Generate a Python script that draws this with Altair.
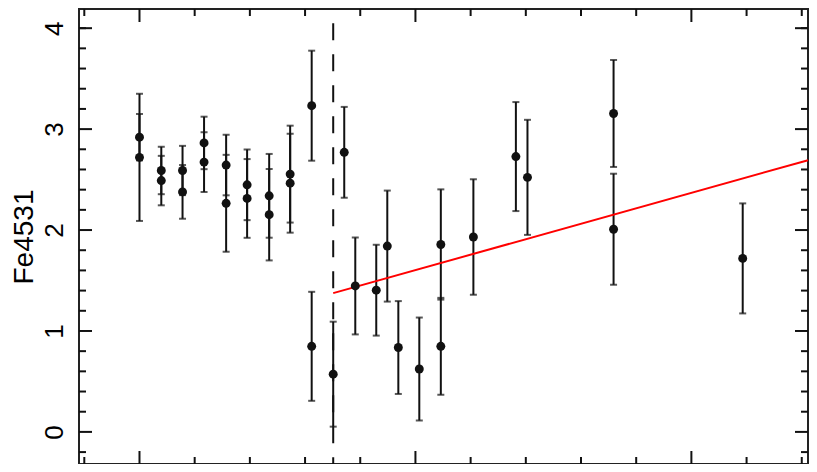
import altair as alt
import pandas as pd

# ---- data ----
x_vals = [0.00, 0.00, 0.395, 0.395, 0.78, 0.78, 1.17, 1.17, 1.57, 1.57,
          1.95, 1.95, 2.35, 2.35, 2.73, 2.73, 3.12, 3.12, 3.51, 3.71,
          3.91, 4.29, 4.49, 4.69, 5.07, 5.46, 5.46, 6.05, 6.82, 7.03,
          8.59, 8.59, 10.93]
y_vals = [2.92, 2.72, 2.59, 2.49, 2.59, 2.378, 2.863, 2.673, 2.644, 2.265,
          2.448, 2.313, 2.339, 2.152, 2.554, 2.464, 3.232, 0.848, 0.572, 2.77,
          1.446, 1.404, 1.841, 0.836, 0.623, 1.857, 0.848, 1.931, 2.728, 2.522,
          3.155, 2.008, 1.719]
y_errs = [0.23, 0.63, 0.235, 0.245, 0.244, 0.266, 0.26, 0.296, 0.30, 0.48,
          0.35, 0.39, 0.415, 0.453, 0.48, 0.49, 0.545, 0.54, 0.52, 0.45,
          0.48, 0.45, 0.55, 0.46, 0.51, 0.546, 0.48, 0.572, 0.54, 0.57,
          0.53, 0.55, 0.545]

fit_x = [3.51, 12.113]
fit_y = [1.375, 2.692]

dash_x = [3.51]
dash_top = [4.05]

x_domain = [-1.096, 12.113]
y_domain = [-0.318, 4.19]

y_major = [0, 1, 2, 3, 4]
y_minor = [-0.2, 0.2, 0.4, 0.6, 0.8, 1.2, 1.4, 1.6, 1.8, 2.2, 2.4, 2.6, 2.8,
           3.2, 3.4, 3.6, 3.8, 4.0]
x_major = [0, 5, 10]
x_minor = [-1, 1, 2, 3, 4, 6, 7, 8, 9, 11, 12]

W, H = 729, 455
INK = "#111111"
FONT = "Liberation Sans"

pts = pd.DataFrame({"x": x_vals, "y": y_vals, "err": y_errs})
pts["lo"] = pts["y"] - pts["err"]
pts["hi"] = pts["y"] + pts["err"]

xs = alt.Scale(domain=x_domain, nice=False, zero=False)
ys = alt.Scale(domain=y_domain, nice=False, zero=False)
yaxis = alt.Axis(values=y_major, ticks=False, domain=False, grid=False,
                 labelAngle=270, labelAlign="center", labelBaseline="middle",
                 labelPadding=25, labelFontSize=26, labelFont=FONT,
                 labelColor="black", labelFlush=False,
                 title="Fe4531", titleFont=FONT, titleFontSize=28,
                 titleFontWeight="normal", titleColor="black",
                 titleAngle=270, titleBaseline="middle", titleX=-55)


def X(f):
    return alt.X(f, type="quantitative", scale=xs, axis=None)


def Y(f):
    return alt.Y(f, type="quantitative", scale=ys, axis=yaxis, title="Fe4531")


base = alt.Chart(pts)

bars = base.mark_rule(color=INK, strokeWidth=2).encode(x=X("x"), y=Y("lo"), y2="hi")
cap_lo = base.mark_tick(color=INK, size=7, thickness=2, orient="horizontal").encode(x=X("x"), y=Y("lo"))
cap_hi = base.mark_tick(color=INK, size=7, thickness=2, orient="horizontal").encode(x=X("x"), y=Y("hi"))
dots = base.mark_circle(color=INK, size=80, opacity=1).encode(x=X("x"), y=Y("y"))

fit = alt.Chart(pd.DataFrame({"x": fit_x, "y": fit_y})).mark_line(
    color="#ff0000", strokeWidth=2).encode(x=X("x"), y=Y("y"))

dash = alt.Chart(pd.DataFrame({"x": dash_x, "top": dash_top, "bot": [y_domain[0]]})).mark_rule(
    color=INK, strokeWidth=2, strokeDash=[17, 14]).encode(x=X("x"), y=Y("top"), y2="bot")

ymaj = pd.DataFrame({"v": y_major})
ymin = pd.DataFrame({"v": y_minor})
xmaj = pd.DataFrame({"v": x_major})
xmin = pd.DataFrame({"v": x_minor})

tick_layers = []
for df, ln in [(ymaj, 13), (ymin, 7)]:
    tick_layers.append(alt.Chart(df).mark_rule(color=INK, strokeWidth=2).encode(
        y=Y("v"), x=alt.value(0), x2=alt.value(ln)))
    tick_layers.append(alt.Chart(df).mark_rule(color=INK, strokeWidth=2).encode(
        y=Y("v"), x=alt.value(W), x2=alt.value(W - ln)))
for df, ln in [(xmaj, 13), (xmin, 7)]:
    tick_layers.append(alt.Chart(df).mark_rule(color=INK, strokeWidth=2).encode(
        x=X("v"), y=alt.value(0), y2=alt.value(ln)))
    tick_layers.append(alt.Chart(df).mark_rule(color=INK, strokeWidth=2).encode(
        x=X("v"), y=alt.value(H), y2=alt.value(H - ln)))

chart = alt.layer(*tick_layers, bars, cap_lo, cap_hi, dash, fit, dots).properties(
    width=W, height=H,
    background="white",
    autosize=alt.AutoSizeParams(type="none"),
    padding={"left": 71, "top": 1, "right": 1, "bottom": 0},
).configure_view(stroke="#222222", strokeWidth=2)

chart.save("out.html", embed_options={"renderer": "svg", "actions": False})
